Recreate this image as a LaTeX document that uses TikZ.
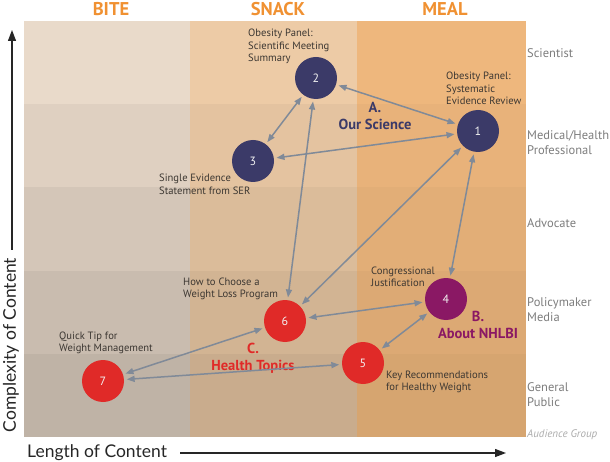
\documentclass[tikz,border=0pt]{standalone}
\usepackage{fontspec}
\setmainfont{PT Sans}
\newfontfamily\axisfont{Lato}
\usetikzlibrary{arrows.meta}
\definecolor{bitecol}{RGB}{233,218,202}
\definecolor{snackcol}{RGB}{237,203,166}
\definecolor{mealcol}{RGB}{238,183,125}
\definecolor{headorange}{RGB}{240,145,50}
\definecolor{rowgray}{RGB}{125,125,125}
\definecolor{notegray}{RGB}{60,55,50}
\definecolor{linkgray}{RGB}{128,138,152}
\definecolor{sciblue}{RGB}{59,58,104}
\definecolor{nhlbipurple}{RGB}{138,24,100}
\definecolor{topicred}{RGB}{224,42,40}
\begin{document}
\begin{tikzpicture}[x=1pt,y=-1pt,
  header/.style={anchor=base,text=headorange,font=\fontsize{18.5}{18.5}\bfseries},
  rowlabel/.style={anchor=base west,align=left,inner sep=0pt,text=rowgray,font=\fontsize{12.5}{15}\selectfont},
  topic/.style={circle,minimum size=42pt,inner sep=0pt,text=white!90!gray,font=\fontsize{12}{12}\selectfont},
  note/.style={anchor=base west,align=left,inner sep=0pt,text=notegray,font=\fontsize{10.6}{12.5}\selectfont},
  group/.style={anchor=base,align=center,inner sep=0pt,font=\fontsize{14.5}{17}\bfseries},
  link/.style={{Triangle[length=8pt,width=6pt]}-{Triangle[length=8pt,width=6pt]},linkgray,line width=1.5pt,shorten <=2.5pt,shorten >=2.5pt},
  axisarrow/.style={-{Triangle[length=11pt,width=8pt]},line width=1.3pt,black!85},
  axislabel/.style={inner sep=0pt,text=black!85,font=\axisfont\fontsize{17.5}{17.5}\selectfont}]
\useasboundingbox (0,0) rectangle (610,462);

% background cells, darker towards the lower rows
\foreach \col/\xa/\xb/\dk in {bitecol/23.5/190/4.5,snackcol/190/357/3.8,mealcol/357/525.5/2.5}
  \foreach \r in {0,...,4}{
    \pgfmathsetmacro\pct{100-\r*\dk}
    \fill[\col!\pct!black] (\xa,{21+\r*83.2}) rectangle (\xb,{21+(\r+1)*83.2});
  }

% column headers
\foreach \name/\x in {BITE/111,SNACK/278,MEAL/445}
  \node[header] (h\name) at (\x,16) {\name};

% audience rows (multi-line labels sit on their last baseline)
\node[rowlabel] (rsci) at (527,58) {Scientist};
\node[rowlabel] (rmed) at (527,155) {Medical/Health\\Professional};
\node[rowlabel] (radv) at (527,228) {Advocate};
\node[rowlabel] (rpol) at (527,321) {Policymaker\\Media};
\node[rowlabel] (rgen) at (527,406) {General\\Public};
\node[rowlabel,text=black!33,font=\fontsize{11}{11}\itshape] (raud) at (527,437) {Audience Group};

% axes
\coordinate (ybot) at (12,250);
\coordinate (ytop) at (12,30);
\draw[axisarrow] (ybot) -- (ytop);
\node[axislabel,rotate=90] (ylab) at (11,345) {Complexity of Content};
\node[axislabel,anchor=base west] (xlab) at (27,457) {Length of Content};
\coordinate (xleft) at (180,453);
\coordinate (xright) at (506,453);
\draw[axisarrow] (xleft) -- (xright);

% products
\node[topic,fill=sciblue] (n1) at (478,131) {1};
\node[topic,fill=sciblue] (n2) at (316,78) {2};
\node[topic,fill=sciblue] (n3) at (253,161) {3};
\node[topic,fill=nhlbipurple] (n4) at (446,299) {4};
\node[topic,fill=topicred] (n5) at (363,363) {5};
\node[topic,fill=topicred] (n6) at (285,321) {6};
\node[topic,fill=topicred] (n7) at (103,381) {7};

\node[note] (t2) at (248,62) {Obesity Panel:\\Scientific Meeting\\Summary};
\node[note] (t1) at (446,105) {Obesity Panel:\\Systematic\\Evidence Review};
\node[note] (t3) at (159,194.5) {Single Evidence\\Statement from SER};
\node[note] (t6) at (183,297.5) {How to Choose a\\Weight Loss Program};
\node[note] (t4) at (371,286.5) {Congressional\\Justification};
\node[note] (t7) at (59,351.5) {Quick Tip for\\Weight Management};
\node[note] (t5) at (386,390.5) {Key Recommendations\\for Healthy Weight};

\node[group,text=sciblue] (ga) at (375,130) {A.\\Our Science};
\node[group,text=nhlbipurple] (gb) at (478,338) {B.\\About NHLBI};
\node[group,text=topicred] (gc) at (253,370.5) {C.\\Health Topics};

% links
\draw[link] (n1) -- (n2);
\draw[link] (n2) -- (n3);
\draw[link] (n1) -- (n3);
\draw[link] (n2) -- (n6);
\draw[link] (n1) -- (n6);
\draw[link] (n1) -- (n4);
\draw[link] (n4) -- (n6);
\draw[link] (n4) -- (n5);
\draw[link] (n6) -- (n7);
\draw[link] (n5) -- (n7);
\end{tikzpicture}
\end{document}
